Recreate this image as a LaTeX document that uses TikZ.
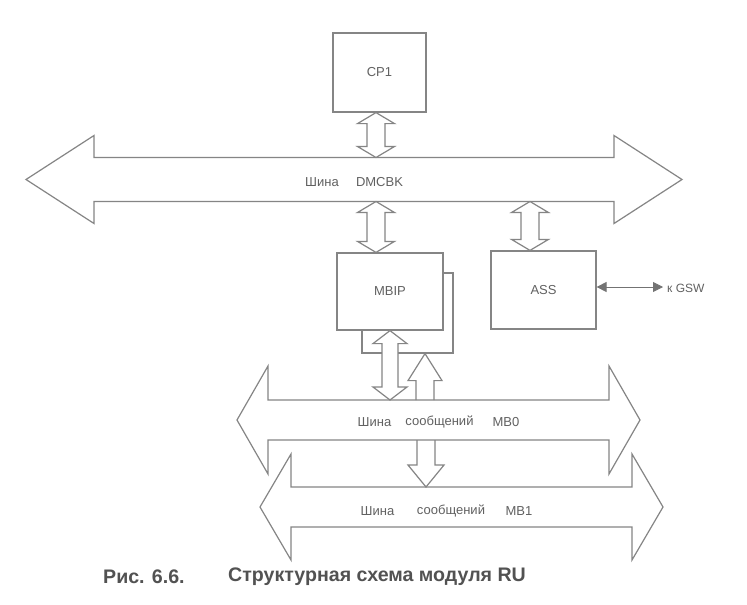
\documentclass[tikz,border=0pt]{standalone}
\usepackage{fontspec}
\setmainfont{Liberation Sans}
\usetikzlibrary{calc,arrows.meta}
\begin{document}
\begin{tikzpicture}[x=1pt,y=-1pt,
  outline/.style={draw=black!48, line width=1.2pt, line join=miter, fill=white},
  openline/.style={draw=black!48, line width=1.2pt, line join=miter},
  box/.style={outline, inner sep=0pt, font=\fontsize{13}{15}\selectfont, text=black!62},
  lbl/.style={inner sep=0pt, font=\fontsize{13}{15}\selectfont, text=black!62},
  captext/.style={inner sep=0pt, anchor=west, font=\fontsize{19.6}{22}\selectfont\bfseries, text=black!68},
  % horizontal bus arrow: shaft half-height, head half-height, head length
  bus/.style n args={3}{to path={let \p1=(\tikztostart), \p2=(\tikztotarget) in
     (\p1) -- (\x1+#3,\y1+#2) -- (\x1+#3,\y1+#1) -- (\x2-#3,\y2+#1) -- (\x2-#3,\y2+#2) -- (\p2)
     -- (\x2-#3,\y2-#2) -- (\x2-#3,\y2-#1) -- (\x1+#3,\y1-#1) -- (\x1+#3,\y1-#2) -- cycle}},
  % vertical two-way block arrow, drawn from the upper end to the lower end
  vdbl/.style n args={3}{to path={let \p1=(\tikztostart), \p2=(\tikztotarget) in
     (\p1) -- (\x1+#2,\y1-#3) -- (\x1+#1,\y1-#3) -- (\x1+#1,\y2+#3) -- (\x1+#2,\y2+#3) -- (\x1,\y2)
     -- (\x1-#2,\y2+#3) -- (\x1-#1,\y2+#3) -- (\x1-#1,\y1-#3) -- (\x1-#2,\y1-#3) -- cycle}},
  % one-way block arrows, head at the target
  vup/.style n args={3}{to path={let \p1=(\tikztostart), \p2=(\tikztotarget) in
     (\x1-#1,\y1) -- (\x1-#1,\y2-#3) -- (\x1-#2,\y2-#3) -- (\x1,\y2) -- (\x1+#2,\y2-#3)
     -- (\x1+#1,\y2-#3) -- (\x1+#1,\y1)}},
  vdown/.style n args={3}{to path={let \p1=(\tikztostart), \p2=(\tikztotarget) in
     (\x1-#1,\y1) -- (\x1-#1,\y2+#3) -- (\x1-#2,\y2+#3) -- (\x1,\y2) -- (\x1+#2,\y2+#3)
     -- (\x1+#1,\y2+#3) -- (\x1+#1,\y1)}},
  link/.style={draw=black!55, line width=0.8pt,
     {Triangle[length=10pt,width=10pt]}-{Triangle[length=10pt,width=10pt]}}
]
\fill[white] (0,0) rectangle (747,605);
\useasboundingbox (0,0) rectangle (747,605);

% bus end points and bus edges
\coordinate (dmcL) at (26,179.5);  \coordinate (dmcR) at (682,179.5);
\coordinate (mb0L) at (237,420);   \coordinate (mb0R) at (640,420);
\coordinate (mb1L) at (260,507);   \coordinate (mb1R) at (663,507);
\coordinate (dmcT) at (0,157.5);   \coordinate (dmcB) at (0,201.5);
\coordinate (mb0T) at (0,400);     \coordinate (mb0B) at (0,440);
\coordinate (mb1T) at (0,487);

% buses
\draw[outline] (dmcL) to[bus={22pt}{44pt}{68pt}] (dmcR);
\draw[outline] (mb0L) to[bus={20pt}{54pt}{31pt}] (mb0R);
\draw[outline] (mb1L) to[bus={20pt}{53pt}{31pt}] (mb1R);

% modules
\node[box, minimum width=93pt, minimum height=79pt] (cp1) at (379.5,72.5) {CP1};
\node[box, minimum width=91pt, minimum height=80pt] (mbipb) at (407.5,313) {};
\node[box, minimum width=106pt, minimum height=77pt] (mbip) at (390,291.5) {MBIP};
\node[box, minimum width=105pt, minimum height=78pt] (ass) at (543.5,290) {ASS};

% columns of the block arrows
\coordinate (xa) at (376,0);
\coordinate (xb) at (530,0);
\coordinate (xc) at (390,0);
\coordinate (xd) at (425,0);
\coordinate (xe) at (426,0);

\draw[outline] (xa |- cp1.south) to[vdbl={9pt}{18.5pt}{11pt}] (xa |- dmcT);
\draw[outline] (xa |- dmcB) to[vdbl={9pt}{18.5pt}{11pt}] (xa |- mbip.north);
\draw[outline] (xb |- dmcB) to[vdbl={9pt}{18.5pt}{11pt}] (xb |- ass.north);
\draw[outline] (xc |- mbip.south) to[vdbl={8pt}{17pt}{13pt}] (xc |- mb0T);
\draw[openline] (xd |- mb0T) to[vup={9pt}{17pt}{27pt}] (xd |- mbipb.south);
\draw[openline] (xe |- mb0B) to[vdown={9pt}{18pt}{22pt}] (xe |- mb1T);

% external link of ASS
\coordinate (gsw) at (663,287);
\draw[link] ([yshift=3pt]ass.east) -- (gsw);
\node[lbl, anchor=west, font=\fontsize{12}{14}\selectfont] (gswl) at (667,288) {к GSW};

% bus names
\node[lbl] (d1) at (322,182) {Шина};
\node[lbl] (d2) at (379.5,182) {DMCBK};
\node[lbl] (m01) at (374.5,422) {Шина};
\node[lbl] (m02) at (439.5,422) {сообщений};
\node[lbl] (m03) at (506,422) {MB0};
\node[lbl] (m11) at (377.5,511) {Шина};
\node[lbl] (m12) at (451,511) {сообщений};
\node[lbl] (m13) at (519,511) {MB1};

% caption
\node[captext] (c1) at (103,577) {Рис. 6.6.};
\node[captext] (c2) at (228,577) {Структурная схема модуля RU};
\end{tikzpicture}
\end{document}
